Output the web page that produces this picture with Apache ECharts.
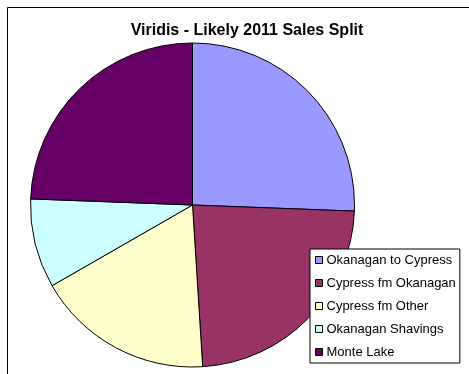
<!DOCTYPE html>
<html><head><meta charset="utf-8">
<script src="https://cdn.jsdelivr.net/npm/echarts@6/dist/echarts.min.js"></script>
<style>html,body{margin:0;padding:0;background:#fff}#c{width:469px;height:374px}</style>
</head><body><div id="c"></div>
<script>
const categories = ["Okanagan to Cypress", "Cypress fm Okanagan", "Cypress fm Other", "Okanagan Shavings", "Monte Lake"];
const values = [25.6, 23.4, 17.7, 8.9, 24.4];
const colors = ["#9999FF", "#993366", "#FFFFCC", "#CCFFFF", "#660066"];
const titleText = "Viridis - Likely 2011 Sales Split";

const chart = echarts.init(document.getElementById('c'), null, {renderer: 'canvas'});
chart.setOption({
  animation: false,
  backgroundColor: '#fff',
  graphic: [{
    type: 'rect', shape: {x: 7.5, y: 7.5, width: 480, height: 400},
    style: {fill: 'none', stroke: '#000', lineWidth: 1}, z: 100, silent: true
  }],
  title: {
    text: titleText, left: 242, textAlign: 'center', top: 18,
    textStyle: {fontFamily: 'Liberation Sans, Arial', fontWeight: 'bold', fontSize: 16, color: '#000'}
  },
  legend: {
    orient: 'vertical', left: 310, top: 249,
    backgroundColor: '#fff', borderColor: '#000', borderWidth: 1,
    padding: [4, 4, 4, 5], itemGap: 9, icon: 'rect', itemWidth: 7, itemHeight: 7,
    itemStyle: {borderColor: '#000', borderWidth: 1},
    textStyle: {fontFamily: 'Liberation Sans, Arial', fontSize: 13, color: '#000', lineHeight: 14, padding: [0, 0, 0, -1]},
    data: categories, z: 10
  },
  series: [{
    type: 'pie', center: [192.5, 205], radius: 162, startAngle: 90, clockwise: true,
    label: {show: false}, labelLine: {show: false},
    itemStyle: {borderColor: '#000', borderWidth: 1},
    emphasis: {disabled: true},
    data: categories.map((n, i) => ({name: n, value: values[i], itemStyle: {color: colors[i]}}))
  }]
});
</script></body></html>
